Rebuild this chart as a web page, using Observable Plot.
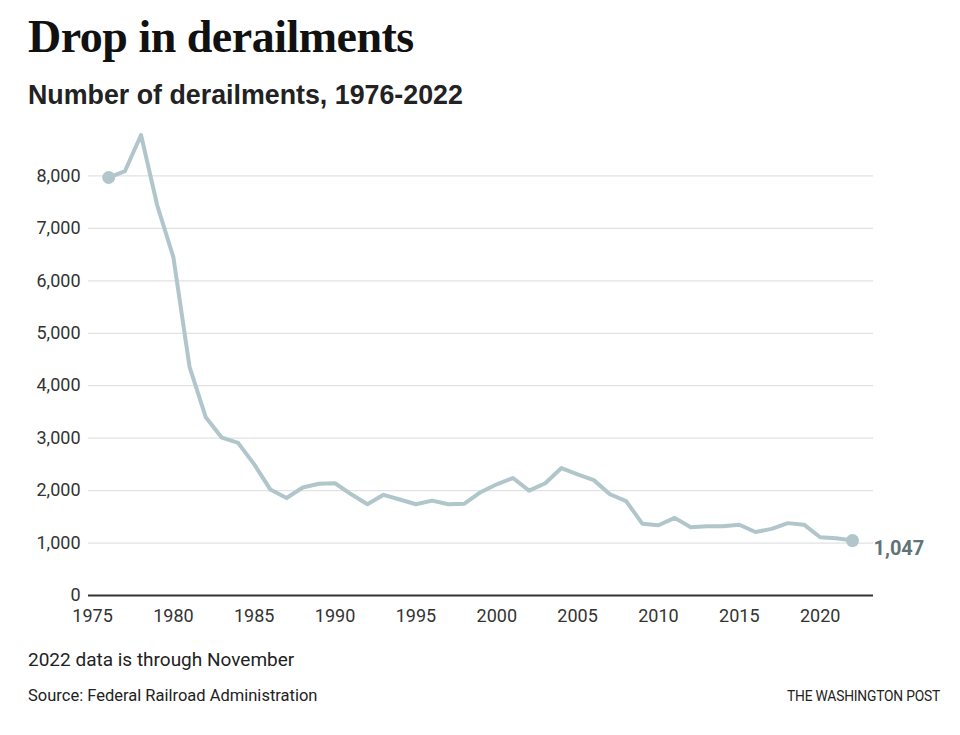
<!DOCTYPE html>
<html>
<head>
<meta charset="utf-8">
<script src="https://cdn.jsdelivr.net/npm/d3@7"></script>
<script src="https://cdn.jsdelivr.net/npm/@observablehq/plot@0.6"></script>
<style>
  html, body { margin: 0; padding: 0; background: #fff; }
  body { width: 960px; height: 735px; position: relative; overflow: hidden; }
  .t { position: absolute; white-space: nowrap; }
  #title { left: 28px; top: 10px; font-family: "Liberation Serif", "DejaVu Serif", serif; font-weight: 700; font-size: 46px; color: #111; letter-spacing: -0.5px; }
  #subtitle { left: 28px; top: 80px; font-family: "Liberation Sans", Arial, sans-serif; font-weight: 700; font-size: 26.8px; color: #222; }
  #chart { position: absolute; left: 0; top: 113px; }
  #note { left: 28px; top: 648px; font-family: Roboto, "Liberation Sans", sans-serif; font-size: 19px; color: #222; }
  #source { left: 28px; top: 686px; font-family: Roboto, "Liberation Sans", sans-serif; font-size: 16.5px; color: #222; }
  #brand { right: 20px; top: 688px; font-family: Roboto, "Liberation Sans", sans-serif; font-size: 13.8px; color: #222; letter-spacing: -0.2px; }
</style>
</head>
<body>
<div class="t" id="title">Drop in derailments</div>
<div class="t" id="subtitle">Number of derailments, 1976-2022</div>
<div id="chart"></div>
<div class="t" id="note">2022 data is through November</div>
<div class="t" id="source">Source: Federal Railroad Administration</div>
<div class="t" id="brand">THE WASHINGTON POST</div>
<script>
const years = [1976,1977,1978,1979,1980,1981,1982,1983,1984,1985,1986,1987,1988,1989,1990,1991,1992,1993,1994,1995,1996,1997,1998,1999,2000,2001,2002,2003,2004,2005,2006,2007,2008,2009,2010,2011,2012,2013,2014,2015,2016,2017,2018,2019,2020,2021,2022];
const derailments = [7970,8090,8780,7440,6450,4360,3400,3010,2910,2500,2020,1860,2060,2130,2140,1930,1740,1920,1830,1740,1810,1740,1750,1970,2120,2240,2000,2140,2430,2310,2200,1930,1800,1370,1340,1480,1300,1320,1320,1350,1210,1270,1380,1350,1110,1090,1047];
const yTicks = [0,1000,2000,3000,4000,5000,6000,7000,8000];
const xTicks = [1975,1980,1985,1990,1995,2000,2005,2010,2015,2020];
const endLabel = "1,047";

const data = years.map((y, i) => ({year: y, value: derailments[i]}));
const ends = [data[0], data[data.length - 1]];
const lineColor = "#b0c6ca";

const chart = Plot.plot({
  width: 960,
  height: 522,
  marginLeft: 88,
  marginRight: 87,
  marginTop: 10,
  marginBottom: 40,
  style: {fontFamily: "Roboto, 'Liberation Sans', sans-serif", fontSize: "18px", color: "#333", background: "transparent", overflow: "visible"},
  x: {domain: [1974.75, 2023.3], ticks: xTicks, tickFormat: d => String(d), tickSize: 0, tickPadding: 14, label: null},
  y: {domain: [0, 9000], ticks: yTicks, tickFormat: d3.format(","), tickSize: 0, tickPadding: 8, label: null},
  marks: [
    Plot.gridY(yTicks.filter(d => d > 0), {stroke: "#e2e2e2", strokeOpacity: 1, strokeWidth: 1.3}),
    Plot.ruleY([0], {stroke: "#333", strokeWidth: 1.8}),
    Plot.line(data, {x: "year", y: "value", stroke: lineColor, strokeWidth: 4, strokeLinejoin: "round", strokeLinecap: "round"}),
    Plot.dot(ends, {x: "year", y: "value", r: 6.5, fill: lineColor, stroke: "none"}),
    Plot.text([ends[1]], {x: "year", y: "value", text: () => endLabel, dx: 21, dy: 8, textAnchor: "start", fill: "#5f7478", fontWeight: 700, fontSize: 20})
  ]
});
document.getElementById("chart").appendChild(chart);
</script>
</body>
</html>
